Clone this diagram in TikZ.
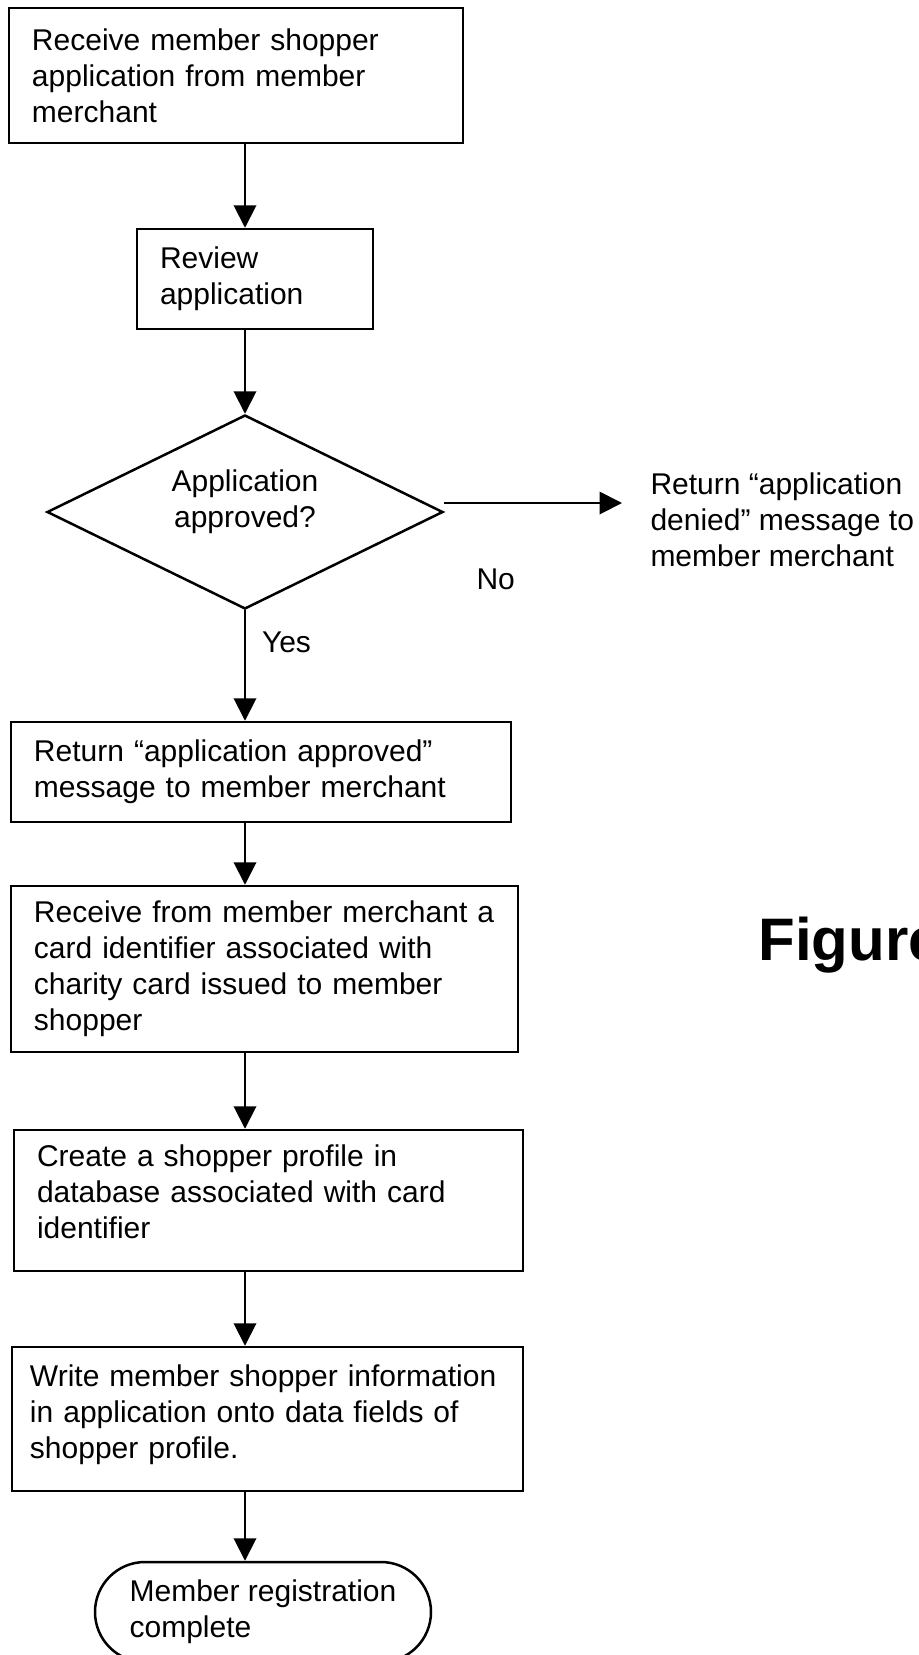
\documentclass[tikz,border=0pt]{standalone}
\usepackage{fontspec}
\setmainfont{Liberation Sans}
\usetikzlibrary{positioning,shapes.geometric,shapes.misc,arrows.meta}

\begin{document}
\begin{tikzpicture}[node distance=2cm,on grid,
  font=\fontsize{12}{14.4}\selectfont,
  box/.style={draw,line width=1pt,rectangle,inner xsep=9.2pt,inner ysep=0pt,align=left},
  decision/.style={draw,line width=1pt,diamond,aspect=2,inner sep=0pt,align=center},
  stop/.style={draw,line width=1pt,rounded rectangle,inner sep=0pt,align=left},
  arr/.style={line width=0.8pt,-{Triangle[width=9pt,length=9pt]}},
  lbl/.style={inner sep=0pt}]
 \useasboundingbox (0,0) rectangle (367.2pt,-662pt);
 \node[box,text width=163.2pt,minimum height=54pt] (s_recv) at (94.4pt,-30.2pt)
   {Receive member shopper\\application from member\\merchant};
 \node[box,text width=76pt,minimum height=40pt] (s_review)[below=81.4pt of s_recv,xshift=7.6pt]
   {Review\\application};
 \node[decision,minimum width=158.4pt,minimum height=77.6pt,text depth=11pt] (s_ok)[below=93.2pt of s_review,xshift=-4pt]
   {Application\\approved?};
 \node[lbl,align=left] (s_deny)[right=162pt of s_ok,anchor=west,yshift=-3.2pt]
   {Return “application\\denied” message to\\member merchant};
 \node[box,text width=181.6pt,minimum height=40pt] (s_msg)[below=104pt of s_ok,xshift=6.4pt]
   {Return “application approved”\\message to member merchant};
 \node[box,text width=184.4pt,minimum height=66.4pt] (s_card)[below=78.8pt of s_msg,xshift=1.4pt]
   {Receive from member merchant a\\card identifier associated with\\charity card issued to member\\shopper};
 \node[box,text width=185.2pt,minimum height=56.4pt,text depth=36pt] (s_prof)[below=92.6pt of s_card,xshift=1.6pt]
   {Create a shopper profile in\\database associated with card\\identifier};
 \node[box,text width=190pt,inner xsep=7.2pt,minimum height=57.6pt,text depth=34.5pt] (s_write)[below=87.4pt of s_prof,xshift=-0.4pt]
   {Write member shopper information\\in application onto data fields of\\shopper profile.};
 \node[stop,minimum width=134.4pt,minimum height=40pt] (end)[below=77.2pt of s_write,xshift=-1.8pt]
   {Member registration\\complete};
 \node[lbl,font=\fontsize{24}{28}\selectfont\bfseries,anchor=base west] (fig) at (303.2pt,-384pt) {Figure};
 \path[arr]
 (s_recv.south -| s_ok.north) edge (s_review.north -| s_ok.north)
 (s_review.south -| s_ok.north) edge (s_ok.north)
 ([yshift=3.6pt]s_ok.east) edge[shorten >=11.2pt] node[lbl,pos=0.25,below=26pt] {No} ([yshift=3.6pt]s_ok.east -| s_deny.west)
 (s_ok.south) edge node[lbl,pos=0.29,anchor=west,xshift=6.4pt] {Yes} (s_msg.north -| s_ok.south)
 (s_msg.south -| s_ok.south) edge (s_card.north -| s_ok.south)
 (s_card.south -| s_ok.south) edge (s_prof.north -| s_ok.south)
 (s_prof.south -| s_ok.south) edge (s_write.north -| s_ok.south)
 (s_write.south -| s_ok.south) edge (end.north -| s_ok.south);
\end{tikzpicture}
\end{document}
